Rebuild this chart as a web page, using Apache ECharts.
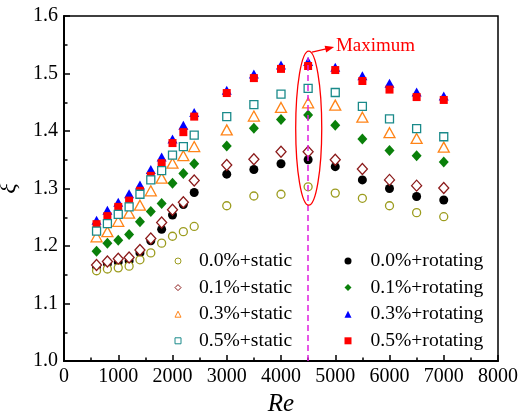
<!DOCTYPE html>
<html>
<head>
<meta charset="utf-8">
<script src="https://cdn.jsdelivr.net/npm/echarts@6/dist/echarts.min.js"></script>
<style>
html,body{margin:0;padding:0;background:#fff;}
#chart{width:519px;height:416px;}
</style>
</head>
<body>
<div id="chart"></div>
<script>
const reValues = [600, 800, 1000, 1200, 1400, 1600, 1800, 2000, 2200, 2400, 3000, 3500, 4000, 4500, 5000, 5500, 6000, 6500, 7000];

const static00 = [1.157, 1.160, 1.162, 1.165, 1.176, 1.188, 1.205, 1.217, 1.225, 1.234, 1.270, 1.287, 1.290, 1.303, 1.292, 1.283, 1.270, 1.258, 1.251];
const static01 = [1.167, 1.173, 1.178, 1.180, 1.193, 1.213, 1.241, 1.263, 1.276, 1.314, 1.341, 1.351, 1.364, 1.364, 1.350, 1.334, 1.315, 1.305, 1.301];
const static03 = [1.216, 1.225, 1.243, 1.257, 1.271, 1.296, 1.318, 1.344, 1.357, 1.373, 1.402, 1.426, 1.441, 1.449, 1.445, 1.424, 1.397, 1.387, 1.372];
const static05 = [1.226, 1.239, 1.255, 1.268, 1.290, 1.315, 1.331, 1.358, 1.373, 1.393, 1.425, 1.446, 1.464, 1.474, 1.467, 1.443, 1.421, 1.404, 1.390];

const rotating00 = [1.164, 1.169, 1.172, 1.174, 1.188, 1.209, 1.229, 1.254, 1.272, 1.293, 1.325, 1.333, 1.343, 1.350, 1.338, 1.315, 1.300, 1.286, 1.280];
const rotating01 = [1.191, 1.205, 1.210, 1.220, 1.242, 1.260, 1.274, 1.309, 1.326, 1.343, 1.374, 1.405, 1.420, 1.428, 1.410, 1.386, 1.366, 1.357, 1.346];
const rotating03 = [1.245, 1.262, 1.276, 1.291, 1.306, 1.333, 1.355, 1.386, 1.410, 1.432, 1.471, 1.499, 1.515, 1.521, 1.511, 1.496, 1.483, 1.468, 1.461];
const rotating05 = [1.238, 1.252, 1.268, 1.279, 1.296, 1.322, 1.344, 1.379, 1.398, 1.425, 1.466, 1.492, 1.508, 1.513, 1.506, 1.487, 1.472, 1.459, 1.454];

const staticNames = ['0.0%+static', '0.1%+static', '0.3%+static', '0.5%+static'];
const rotatingNames = ['0.0%+rotating', '0.1%+rotating', '0.3%+rotating', '0.5%+rotating'];

const xTicks = ['0', '1000', '2000', '3000', '4000', '5000', '6000', '7000', '8000'];
const yTicks = ['1.0', '1.1', '1.2', '1.3', '1.4', '1.5', '1.6'];

// annotation (data space)
const maxRe = 4500;
const maxLineTop = 1.528;
const ellipseCenter = [4511, 1.405];
const ellipseRadius = [240, 0.134];
const arrowFrom = [4571, 1.537];
const arrowTo = [4980, 1.546];
const labelPos = [5013, 1.5475];
const labelText = 'Maximum';

const FONT = 'Liberation Serif';

function pairs(ys) { return reValues.map((x, i) => [x, ys[i]]); }

function hollow(name, ys, symbol, size, color) {
  return {
    name, type: 'scatter', data: pairs(ys), symbol, symbolSize: size,
    itemStyle: { color: '#fff', borderColor: color, borderWidth: 1.3, opacity: 1 },
    emphasis: { disabled: true }, z: 3
  };
}
function filled(name, ys, symbol, size, color) {
  return {
    name, type: 'scatter', data: pairs(ys), symbol, symbolSize: size,
    itemStyle: { color: color, opacity: 1 },
    emphasis: { disabled: true }, z: 2
  };
}

const series = [
  filled(rotatingNames[0], rotating00, 'circle', 9, '#000000'),
  filled(rotatingNames[1], rotating01, 'diamond', [10, 11], '#0A800A'),
  filled(rotatingNames[2], rotating03, 'triangle', [10, 9], '#0000FF'),
  filled(rotatingNames[3], rotating05, 'rect', 8, '#FF0000'),
  hollow(staticNames[0], static00, 'circle', 8, '#9C9C1E'),
  hollow(staticNames[1], static01, 'diamond', [10, 11], '#8B1A1A'),
  hollow(staticNames[2], static03, 'triangle', [11, 10], '#FF8418'),
  hollow(staticNames[3], static05, 'rect', 8, '#1A8A8A')
];

series[0].markLine = {
  silent: true, symbol: 'none', animation: false,
  lineStyle: { color: '#E020E0', type: [6, 4], width: 1.5 },
  label: { show: false },
  data: [[{ coord: [maxRe, 1.0] }, { coord: [maxRe, maxLineTop] }]]
};

const legendText = { fontFamily: FONT, fontSize: 19.6, color: '#000', lineHeight: 20 };

const chart = echarts.init(document.getElementById('chart'), null, { renderer: 'canvas' });
chart.setOption({
  animation: false,
  backgroundColor: '#fff',
  grid: { left: 64, right: 21, top: 16, bottom: 55, show: true, borderColor: '#000', borderWidth: 1.5,
          containLabel: false, outerBoundsMode: 'none' },
  xAxis: {
    type: 'value', min: 0, max: 8000, interval: 1000,
    name: 'Re', nameLocation: 'middle', nameGap: 24,
    nameTextStyle: { fontFamily: FONT, fontStyle: 'italic', fontSize: 25, color: '#000' },
    axisLine: { show: true, lineStyle: { color: '#000', width: 2 } },
    axisTick: { show: true, inside: true, length: 6, lineStyle: { color: '#000', width: 1.5 } },
    minorTick: { show: true, splitNumber: 2, length: 3.5, lineStyle: { color: '#000', width: 1.5 } },
    axisLabel: { fontFamily: FONT, fontSize: 20, color: '#000', margin: 6,
      formatter: (v) => xTicks[Math.round(v / 1000)] },
    splitLine: { show: false }
  },
  yAxis: {
    type: 'value', min: 1.0, max: 1.6, interval: 0.1,
    name: 'ξ', nameLocation: 'middle', nameGap: 43, nameRotate: 90,
    nameTextStyle: { fontFamily: FONT, fontStyle: 'italic', fontSize: 24, color: '#000' },
    axisLine: { show: true, lineStyle: { color: '#000', width: 2 } },
    axisTick: { show: true, inside: true, length: 6, lineStyle: { color: '#000', width: 1.5 } },
    minorTick: { show: true, splitNumber: 2, length: 3.5, lineStyle: { color: '#000', width: 1.5 } },
    axisLabel: { fontFamily: FONT, fontSize: 20, color: '#000', margin: 6,
      formatter: (v) => yTicks[Math.round((v - 1.0) * 10)] },
    splitLine: { show: false }
  },
  legend: [
    {
      data: staticNames, orient: 'vertical', left: 169.5, top: 246, padding: 5,
      itemWidth: 6, itemHeight: 6, itemGap: 6.6, selectedMode: false,
      itemStyle: { borderWidth: 1 },
      textStyle: Object.assign({ padding: [0, 0, 0, 13] }, legendText)
    },
    {
      data: rotatingNames, orient: 'vertical', left: 339.5, top: 246, padding: 5,
      itemWidth: 7, itemHeight: 7, itemGap: 6.6, selectedMode: false,
      textStyle: Object.assign({ padding: [0, 0, 0, 14] }, legendText)
    }
  ],
  series: series
});

function px(p) { return chart.convertToPixel({ gridIndex: 0 }, p); }
const c = px(ellipseCenter);
const e = px([ellipseCenter[0] + ellipseRadius[0], ellipseCenter[1] + ellipseRadius[1]]);
const a0 = px(arrowFrom), a1 = px(arrowTo), lp = px(labelPos);
const ang = Math.atan2(a1[1] - a0[1], a1[0] - a0[0]);
const hl = 9, hw = 3.5;
const head = [
  a1,
  [a1[0] - hl * Math.cos(ang) + hw * Math.sin(ang), a1[1] - hl * Math.sin(ang) - hw * Math.cos(ang)],
  [a1[0] - hl * Math.cos(ang) - hw * Math.sin(ang), a1[1] - hl * Math.sin(ang) + hw * Math.cos(ang)]
];
chart.setOption({
  graphic: [
    { type: 'ellipse', shape: { cx: c[0], cy: c[1], rx: Math.abs(e[0] - c[0]), ry: Math.abs(c[1] - e[1]) },
      style: { fill: 'none', stroke: '#FF0000', lineWidth: 1.3 }, z: 10, silent: true },
    { type: 'line', shape: { x1: a0[0], y1: a0[1], x2: a1[0] - 6 * Math.cos(ang), y2: a1[1] - 6 * Math.sin(ang) },
      style: { stroke: '#FF0000', lineWidth: 1.3 }, z: 10, silent: true },
    { type: 'polygon', shape: { points: head }, style: { fill: '#FF0000' }, z: 10, silent: true },
    { type: 'text', x: lp[0], y: lp[1], z: 10, silent: true,
      style: { text: labelText, fill: '#FF0000', font: '19px "Liberation Serif"', textVerticalAlign: 'middle', textAlign: 'left' } }
  ]
});
</script>
</body>
</html>
